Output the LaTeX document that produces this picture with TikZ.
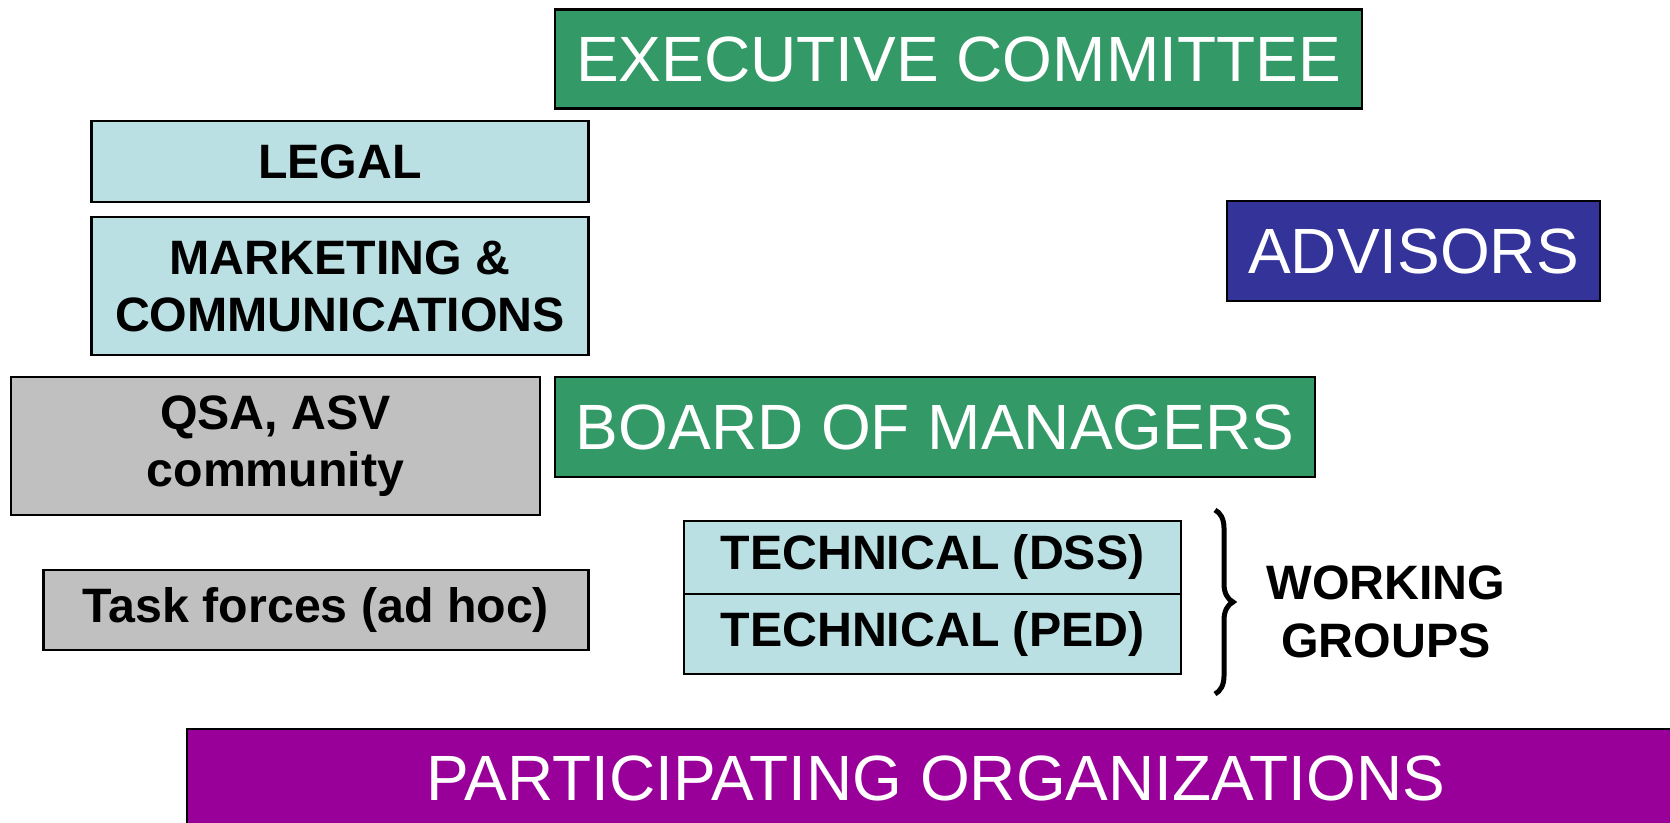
\documentclass[tikz,border=0pt]{standalone}
\usepackage{fontspec}
\setmainfont{Liberation Sans}
\usetikzlibrary{decorations.pathreplacing}
\definecolor{boardgreen}{HTML}{339966}
\definecolor{advblue}{HTML}{333399}
\definecolor{orgpurple}{HTML}{990099}
\definecolor{unitblue}{HTML}{BBE0E3}
\definecolor{unitgray}{HTML}{C0C0C0}

\begin{document}
\begin{tikzpicture}[x=1pt,y=-1pt,
  box/.style={draw=black, line width=2.5pt, rectangle, inner sep=0pt},
  headbox/.style={box, text=white, font=\fontsize{64}{70}\selectfont},
  unitbox/.style={box, align=center, font=\fontsize{48.3}{57}\selectfont\bfseries}]
\useasboundingbox (0,0) rectangle (1670,822);
\clip (0,0) rectangle (1670,822);

% Governing bodies
\node[headbox, fill=boardgreen, minimum width=807pt, minimum height=99pt] (exec) at (958.5,59) {EXECUTIVE COMMITTEE};
\node[headbox, fill=advblue, minimum width=373pt, minimum height=100pt] (advisors) at (1413.5,251) {ADVISORS};
\node[headbox, fill=boardgreen, minimum width=760pt, minimum height=100pt] (board) at (935,427) {BOARD OF MANAGERS};

% Committees on the left
\node[unitbox, fill=unitblue, minimum width=497pt, minimum height=81pt] (legal) at (340,161.5) {LEGAL};
\node[unitbox, fill=unitblue, minimum width=497pt, minimum height=138pt] (marketing) at (340,286) {MARKETING \&\\COMMUNICATIONS};
\node[unitbox, fill=unitgray, minimum width=529pt, minimum height=138pt] (qsa) at (275.5,446) {QSA, ASV\\community};
\node[unitbox, fill=unitgray, minimum width=545pt, minimum height=80pt] (task) at (316,610) {Task forces (ad hoc)};

% Working groups
\node[unitbox, fill=unitblue, minimum width=497pt, minimum height=73pt] (tdss) at (932.5,557.5) {TECHNICAL (DSS)};
\node[unitbox, fill=unitblue, minimum width=497pt, minimum height=80pt] (tped) at (932.5,634) {TECHNICAL (PED)};
\coordinate (wgtop) at (1215,510);
\coordinate (wgbot) at (1215,694);
\draw[line width=5pt, decorate, decoration={brace, amplitude=18pt}] (wgtop) -- (wgbot);
\node[align=center, font=\fontsize{48.3}{58}\selectfont\bfseries] (wglabel) at (1386,611.5) {WORKING\\GROUPS};

% Members
\node[headbox, fill=orgpurple, minimum width=1498pt, minimum height=99pt] (orgs) at (936,778.5) {PARTICIPATING ORGANIZATIONS};
\end{tikzpicture}
\end{document}
